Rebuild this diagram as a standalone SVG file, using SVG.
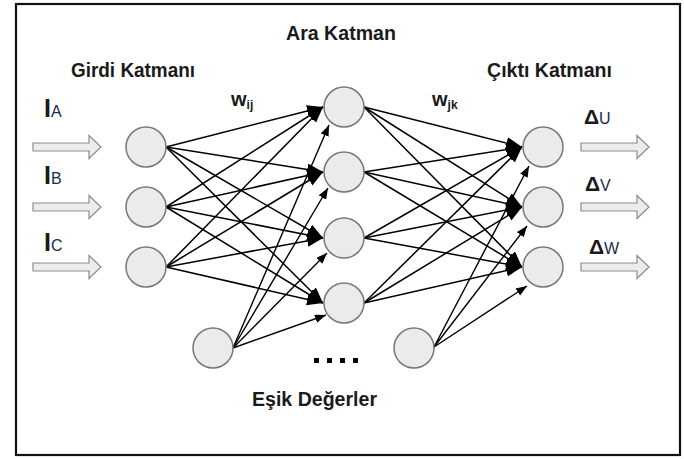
<svg xmlns="http://www.w3.org/2000/svg" width="684" height="459" viewBox="0 0 684 459">
<style>
.bg{fill:#ffffff}
.frame{fill:none;stroke:#111;stroke-width:2.2}
.node{fill:#ebebeb;stroke:#777;stroke-width:1.5}
.io{fill:#ececec;stroke:#8c8c8c;stroke-width:1.2}
.edge{stroke:#000;stroke-width:1.5;fill:none;marker-end:url(#big)}
.bias{stroke:#000;stroke-width:1.4;fill:none;marker-end:url(#small)}
.title{font-family:"Liberation Sans",Arial,sans-serif;font-weight:bold;font-size:20px;fill:#1a1a1a}
.lbl{font-family:"Liberation Sans",Arial,sans-serif;fill:#1a1a1a}
.big{font-weight:bold}
.sub{font-size:16px;fill:#1c2a48}
</style>
<defs>
<marker id="big" markerUnits="userSpaceOnUse" markerWidth="17" markerHeight="13" refX="16" refY="6" orient="auto">
<path d="M0,0 L16,6 L0,12 Z" fill="#000"/>
</marker>
<marker id="small" markerUnits="userSpaceOnUse" markerWidth="12" markerHeight="9" refX="11" refY="4.25" orient="auto">
<path d="M0,0 L11,4.25 L0,8.5 Z" fill="#000"/>
</marker>
<path id="hollow" d="M0,-4 H56 V-11.5 L68,0 L56,11.5 V4 H0 Z"/>
</defs>
<rect class="bg" x="0" y="0" width="684" height="459"/>
<rect class="frame" x="16" y="4" width="664" height="451"/>

<g id="connectors">
<line class="edge" x1="166" y1="147" x2="323" y2="107"/>
<line class="edge" x1="166" y1="147" x2="323" y2="172"/>
<line class="edge" x1="166" y1="147" x2="323" y2="238"/>
<line class="edge" x1="166" y1="147" x2="323" y2="303"/>
<line class="edge" x1="166" y1="207" x2="323" y2="107"/>
<line class="edge" x1="166" y1="207" x2="323" y2="172"/>
<line class="edge" x1="166" y1="207" x2="323" y2="238"/>
<line class="edge" x1="166" y1="207" x2="323" y2="303"/>
<line class="edge" x1="166" y1="267" x2="323" y2="107"/>
<line class="edge" x1="166" y1="267" x2="323" y2="172"/>
<line class="edge" x1="166" y1="267" x2="323" y2="238"/>
<line class="edge" x1="166" y1="267" x2="323" y2="303"/>
<line class="bias" x1="233" y1="348" x2="329" y2="125"/>
<line class="bias" x1="233" y1="348" x2="328" y2="188"/>
<line class="bias" x1="233" y1="348" x2="327" y2="253"/>
<line class="bias" x1="233" y1="348" x2="326" y2="315"/>
<line class="edge" x1="364" y1="107" x2="522" y2="147"/>
<line class="edge" x1="364" y1="107" x2="522" y2="207"/>
<line class="edge" x1="364" y1="107" x2="522" y2="267"/>
<line class="edge" x1="364" y1="172" x2="522" y2="147"/>
<line class="edge" x1="364" y1="172" x2="522" y2="207"/>
<line class="edge" x1="364" y1="172" x2="522" y2="267"/>
<line class="edge" x1="364" y1="238" x2="522" y2="147"/>
<line class="edge" x1="364" y1="238" x2="522" y2="207"/>
<line class="edge" x1="364" y1="238" x2="522" y2="267"/>
<line class="edge" x1="364" y1="303" x2="522" y2="147"/>
<line class="edge" x1="364" y1="303" x2="522" y2="207"/>
<line class="edge" x1="364" y1="303" x2="522" y2="267"/>
<line class="bias" x1="434" y1="347" x2="529" y2="166"/>
<line class="bias" x1="434" y1="347" x2="527" y2="226"/>
<line class="bias" x1="434" y1="347" x2="527" y2="286"/>
</g>

<g id="input-arrows">
<use href="#hollow" class="io" x="33" y="147"/>
<use href="#hollow" class="io" x="33" y="207"/>
<use href="#hollow" class="io" x="33" y="267"/>
</g>
<g id="output-arrows">
<use href="#hollow" class="io" x="581" y="147"/>
<use href="#hollow" class="io" x="581" y="207"/>
<use href="#hollow" class="io" x="581" y="267"/>
</g>

<g id="in-a"><circle class="node" cx="146" cy="147" r="20"/></g>
<g id="in-b"><circle class="node" cx="146" cy="207" r="20"/></g>
<g id="in-c"><circle class="node" cx="146" cy="267" r="20"/></g>
<g id="hid-1"><circle class="node" cx="344" cy="107" r="20"/></g>
<g id="hid-2"><circle class="node" cx="344" cy="172" r="20"/></g>
<g id="hid-3"><circle class="node" cx="344" cy="238" r="20"/></g>
<g id="hid-4"><circle class="node" cx="344" cy="303" r="20"/></g>
<g id="out-u"><circle class="node" cx="543" cy="147" r="20"/></g>
<g id="out-v"><circle class="node" cx="543" cy="207" r="20"/></g>
<g id="out-w"><circle class="node" cx="543" cy="267" r="20"/></g>
<g id="bias-1"><circle class="node" cx="213" cy="348" r="20"/></g>
<g id="bias-2"><circle class="node" cx="414" cy="348" r="20"/></g>

<g id="dots" fill="#000">
<rect x="314" y="358" width="5" height="5"/>
<rect x="327" y="358" width="5" height="5"/>
<rect x="340" y="358" width="5" height="5"/>
<rect x="353" y="358" width="5" height="5"/>
</g>

<g id="labels">
<text class="title" x="286" y="40" textLength="110" lengthAdjust="spacingAndGlyphs">Ara Katman</text>
<text class="title" x="71" y="77" textLength="124" lengthAdjust="spacingAndGlyphs">Girdi Katmanı</text>
<text class="title" x="487" y="77" textLength="125" lengthAdjust="spacingAndGlyphs">Çıktı Katmanı</text>
<text class="title" x="252" y="406" textLength="125" lengthAdjust="spacingAndGlyphs">Eşik Değerler</text>
<text class="lbl" x="231" y="106"><tspan class="big" font-size="20">w</tspan><tspan font-size="12" font-weight="bold" dy="3">ij</tspan></text>
<text class="lbl" x="432" y="106"><tspan class="big" font-size="20">w</tspan><tspan font-size="12" font-weight="bold" dy="3">jk</tspan></text>
<text class="lbl" x="44" y="117"><tspan class="big" font-size="25">I</tspan><tspan class="sub">A</tspan></text>
<text class="lbl" x="44" y="184"><tspan class="big" font-size="25">I</tspan><tspan class="sub">B</tspan></text>
<text class="lbl" x="44" y="251"><tspan class="big" font-size="25">I</tspan><tspan class="sub">C</tspan></text>
<text class="lbl" x="584" y="124"><tspan class="big" font-size="21">Δ</tspan><tspan class="sub">U</tspan></text>
<text class="lbl" x="585" y="191"><tspan class="big" font-size="21">Δ</tspan><tspan class="sub">V</tspan></text>
<text class="lbl" x="589" y="254"><tspan class="big" font-size="21">Δ</tspan><tspan class="sub">W</tspan></text>
</g>
</svg>
